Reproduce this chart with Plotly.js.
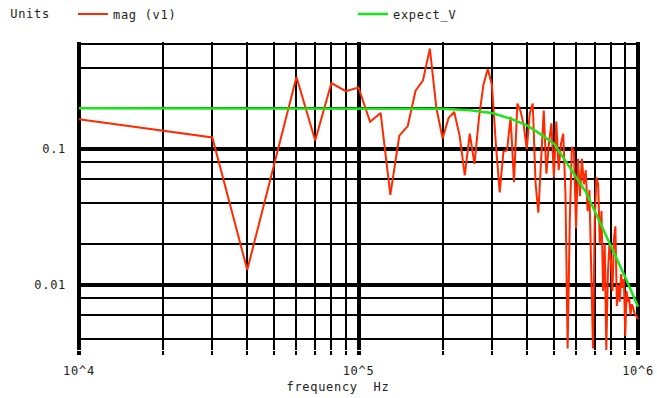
<!DOCTYPE html>
<html>
<head>
<meta charset="utf-8">
<script src="https://cdn.plot.ly/plotly-3.0.1.min.js"></script>
<style>
html,body{margin:0;padding:0;background:#fff;}
#chart{width:657px;height:398px;}
.main-svg text{letter-spacing:0.7px;}
</style>
</head>
<body>
<div id="chart"></div>
<script>
// ---- data ----
const freqHz = [
  10000, 20000, 30000, 40000, 50000, 60000, 70000, 80000, 90000, 100000,
  110000, 120000, 130000, 140000, 150000, 160000, 170000, 180000, 190000, 200000,
  210000, 220000, 230000, 240000, 250000, 260000, 270000, 280000, 290000, 300000,
  310000, 320000, 330000, 340000, 350000, 360000, 370000, 380000, 390000, 400000,
  410000, 420000, 430000, 440000, 450000, 460000, 470000, 480000, 490000, 500000,
  510000, 520000, 530000, 540000, 550000, 560000, 570000, 580000, 590000, 600000,
  610000, 620000, 630000, 640000, 650000, 660000, 670000, 680000, 690000, 700000,
  710000, 720000, 730000, 740000, 750000, 760000, 770000, 780000, 790000, 800000,
  810000, 820000, 830000, 840000, 850000, 860000, 870000, 880000, 890000, 900000,
  910000, 920000, 930000, 940000, 950000, 960000, 970000, 980000, 990000, 1000000
];
const magV1 = [
  0.166, 0.136, 0.122, 0.0129, 0.079, 0.34, 0.116, 0.307, 0.268, 0.285,
  0.159, 0.185, 0.046, 0.126, 0.148, 0.27, 0.32, 0.55, 0.2, 0.12,
  0.17, 0.188, 0.126, 0.064, 0.13, 0.078, 0.173, 0.3, 0.39, 0.3,
  0.11, 0.048, 0.096, 0.098, 0.173, 0.057, 0.217, 0.19, 0.15, 0.1,
  0.185, 0.217, 0.056, 0.034, 0.083, 0.193, 0.066, 0.11, 0.155, 0.062,
  0.16, 0.07, 0.11, 0.13, 0.047, 0.0034, 0.03, 0.104, 0.095, 0.026,
  0.085, 0.045, 0.085, 0.055, 0.07, 0.035, 0.05, 0.012, 0.0034, 0.03,
  0.062, 0.055, 0.02, 0.035, 0.009, 0.02, 0.0033, 0.012, 0.02, 0.015,
  0.009, 0.022, 0.027, 0.007, 0.01, 0.0075, 0.012, 0.0095, 0.011, 0.0042,
  0.009, 0.0075, 0.008, 0.006, 0.0072, 0.0068, 0.0062, 0.006, 0.0058, 0.0056
];
const expectFreqHz = [10000, 100000, 150000, 200000, 250000, 300000, 350000, 400000, 450000, 500000,
  550000, 600000, 650000, 700000, 750000, 800000, 850000, 900000, 950000, 1000000];
const expectV = [0.2, 0.2, 0.2, 0.199, 0.194, 0.185, 0.168, 0.15, 0.128, 0.11,
  0.082, 0.063, 0.0485, 0.035, 0.0255, 0.0192, 0.0147, 0.0114, 0.0089, 0.0069];

const seriesNames = ['mag (v1)', 'expect_V'];
const xMajorTicks = [1e4, 1e5, 1e6];
const xMajorLabels = ['10^4', '10^5', '10^6'];
const xMinorTicks = [2e4, 3e4, 4e4, 5e4, 6e4, 7e4, 8e4, 9e4, 2e5, 3e5, 4e5, 5e5, 6e5, 7e5, 8e5, 9e5];
const yMajorTicks = [0.01, 0.1];
const yMajorLabels = ['0.01', '0.1'];
const yMinorTicks = [0.004, 0.006, 0.008, 0.02, 0.04, 0.06, 0.08, 0.2, 0.4, 0.6];
const unitsLabel = 'Units';
const xTitle = 'frequency\u00a0\u00a0Hz';

// ---- chart ----
const FONT = {family: 'DejaVu Sans Mono, monospace', size: 12, color: '#222'};
const traces = [
  {x: freqHz, y: magV1, name: seriesNames[0], type: 'scatter', mode: 'lines', legend: 'legend',
   line: {color: '#ff2a00', width: 2}},
  {x: expectFreqHz, y: expectV, name: seriesNames[1], type: 'scatter', mode: 'lines', legend: 'legend2',
   line: {color: '#19e619', width: 2.5}}
];
const legendBase = {orientation: 'h', xref: 'container', yref: 'container', y: 0.965,
  xanchor: 'left', yanchor: 'middle', bgcolor: 'rgba(0,0,0,0)', font: FONT};
const layout = {
  width: 657, height: 398,
  margin: {l: 77, r: 17, t: 42, b: 48},
  paper_bgcolor: '#fff', plot_bgcolor: '#fff',
  font: FONT,
  showlegend: true,
  legend: Object.assign({}, legendBase, {x: 73 / 657}),
  legend2: Object.assign({}, legendBase, {x: 353 / 657}),
  xaxis: {type: 'log', range: [3.993, 6.007], tickmode: 'array', tickvals: xMajorTicks, ticktext: xMajorLabels,
          showgrid: true, gridcolor: '#000', gridwidth: 4, zeroline: false, showline: false,
          ticks: 'outside', ticklen: 4, tickwidth: 4, tickcolor: '#000', ticklabelstandoff: 6,
          tickfont: FONT, fixedrange: true,
          minor: {tickmode: 'array', tickvals: xMinorTicks, showgrid: true, gridcolor: '#000', gridwidth: 2,
                  ticks: 'outside', ticklen: 4, tickwidth: 2, tickcolor: '#000'}},
  yaxis: {type: 'log', range: [-2.48, -0.21], tickmode: 'array', tickvals: yMajorTicks, ticktext: yMajorLabels,
          showgrid: true, gridcolor: '#000', gridwidth: 4, zeroline: false, showline: false,
          ticks: '', ticklabelstandoff: 10, tickfont: FONT, fixedrange: true,
          minor: {tickmode: 'array', tickvals: yMinorTicks, showgrid: true, gridcolor: '#000', gridwidth: 2, ticks: ''}},
  annotations: [
    {text: unitsLabel, xref: 'paper', yref: 'paper', x: -0.119, y: 1.091, xanchor: 'left', yanchor: 'middle',
     showarrow: false, font: FONT},
    {text: xTitle, xref: 'paper', yref: 'paper', x: 0.376, y: -0.120, xanchor: 'left', yanchor: 'middle',
     showarrow: false, font: FONT}
  ]
};
Plotly.newPlot('chart', traces, layout, {displayModeBar: false, staticPlot: true});
</script>
</body>
</html>
